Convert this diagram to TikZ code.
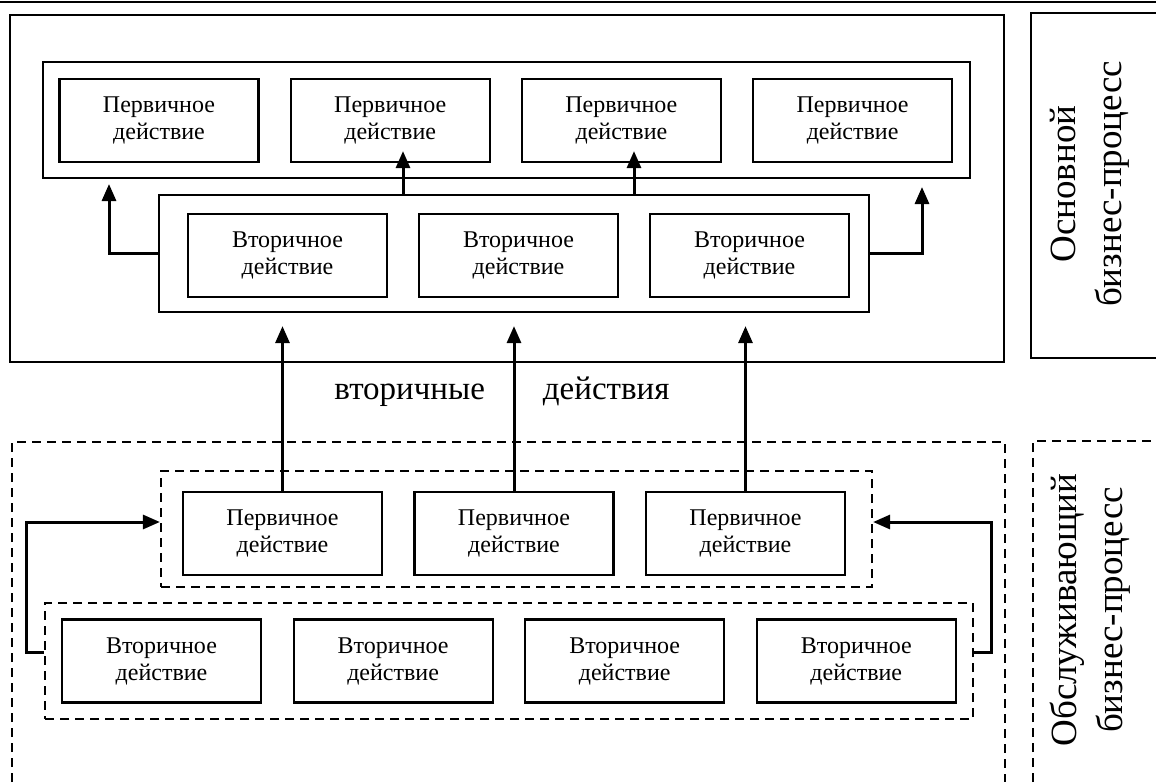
\documentclass[tikz,border=0pt]{standalone}
\usepackage{fontspec}
\setmainfont{Liberation Serif}
\usetikzlibrary{arrows.meta,calc}

\tikzset{
    actbox/.style={draw, line width=2.2pt, minimum width=199pt, minimum height=83pt, inner sep=0pt, align=center, font=\fontsize{24}{27}\selectfont},
    solidgroup/.style={draw, line width=2.2pt, inner sep=0pt},
    dashgroup/.style={draw, line width=2.2pt, dash pattern=on 9pt off 6pt, inner sep=0pt},
    dashframe/.style={line width=2.2pt, dash pattern=on 9pt off 6pt},
    sidelabel/.style={rotate=90, align=center, font=\fontsize{37}{46}\selectfont},
    arr/.style={line width=3pt, -{Triangle[length=17pt,width=14pt]}},
}

\begin{document}
\begin{tikzpicture}[x=1pt, y=-1pt]
    \useasboundingbox (0,0) rectangle (1156,782);

    % Line across the top
    \draw[line width=2pt] (0,2) -- (1156,2);

    % Main process: frame and its label
    \draw[line width=2.2pt] (10,15) rectangle (1004,362);
    \draw[line width=2.2pt] (1170,13) -| (1031,358) -- (1170,358);
    \node[sidelabel] (mainlabel) at (1090,184) {Основной\\бизнес-процесс};

    % Primary actions of the main process
    \node[solidgroup, minimum width=927pt, minimum height=116pt] (pc) at (506.5,120) {};
    \foreach \i in {1,...,4} {
        \node[actbox] (p\i) at ({159+231.2*(\i-1)},120.5) {Первичное\\действие};
    }

    % Secondary actions of the main process
    \node[solidgroup, minimum width=710pt, minimum height=117pt] (sc) at (514,253.5) {};
    \foreach \i in {1,...,3} {
        \node[actbox] (s\i) at ({287.5+231*(\i-1)},255.5) {Вторичное\\действие};
    }

    % Secondary actions feed the primary ones
    \coordinate (g1) at ($(s1.east)!.5!(s2.west)$);
    \coordinate (g2) at ($(s2.east)!.5!(s3.west)$);
    \coordinate (tl) at (109,184);
    \coordinate (tr) at (922,187);
    \draw[arr] (sc.west) -| (tl);
    \draw[arr] (sc.east) -| (tr);
    \draw[arr] (sc.north -| g1) -- ([yshift=12pt]p2.south -| g1);
    \draw[arr] (sc.north -| g2) -- ([yshift=12pt]p3.south -| g2);

    % Label between the two processes
    \node[font=\fontsize{33}{40}\selectfont] (between) at (502,392) {вторичные\hspace{58pt}действия};

    % Supporting process: frame and its label
    \draw[dashframe] (12,782) |- (1005,442) -- (1005,782);
    \draw[dashframe] (1033,782) |- (1170,441);
    \node[sidelabel] (supportlabel) at (1090,610) {Обслуживающий\\бизнес-процесс};

    % Primary actions of the supporting process
    \node[dashgroup, minimum width=711pt, minimum height=116pt] (qc) at (516.5,529) {};
    \foreach \i in {1,...,3} {
        \node[actbox] (q\i) at ({282.5+231.5*(\i-1)},533.5) {Первичное\\действие};
        \draw[arr] (q\i.north) -- ([yshift=-13pt]sc.south -| q\i.north); % up to the main process
    }

    % Secondary actions of the supporting process
    \node[dashgroup, minimum width=928pt, minimum height=116pt] (rc) at (509,661) {};
    \foreach \i in {1,...,4} {
        \node[actbox] (r\i) at ({161.5+231.6*(\i-1)},661) {Вторичное\\действие};
    }

    % Secondary actions loop back to the primary ones
    \draw[arr] ([yshift=9pt]rc.west) -- ++(-17,0) |- ([yshift=7pt]qc.west);
    \draw[arr] ([yshift=9pt]rc.east) -- ++(17,0) |- ([yshift=7pt]qc.east);
\end{tikzpicture}
\end{document}
